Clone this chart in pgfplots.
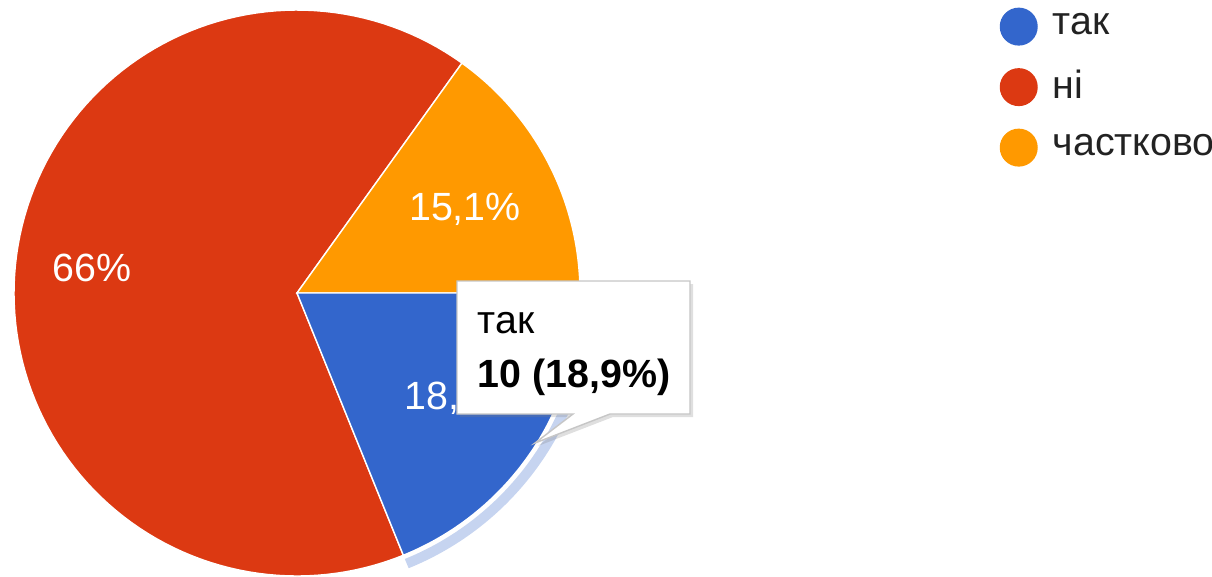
\documentclass[border=0pt]{standalone}
\usepackage{pgfplots}
\pgfplotsset{compat=1.18}
\usepackage{pgfplotstable}
\usepackage{fontspec}
\setmainfont{Liberation Sans}
\definecolor{cblue}{HTML}{3366CC}
\definecolor{cred}{HTML}{DC3912}
\definecolor{corange}{HTML}{FF9900}
\definecolor{cring}{HTML}{C6D4F0}
\definecolor{ctext}{HTML}{222222}

\pgfplotstableread{
label count
tak 10
ni 35
chast 8
}\piedata
\newcommand\fs{\fontsize{11.2}{13.5}\selectfont}

\begin{document}
\begin{tikzpicture}
\pgfplotstablegetelem{0}{count}\of\piedata \let\nA\pgfplotsretval
\pgfplotstablegetelem{1}{count}\of\piedata \let\nB\pgfplotsretval
\pgfplotstablegetelem{2}{count}\of\piedata \let\nC\pgfplotsretval
\pgfmathsetmacro\tot{\nA+\nB+\nC}
\pgfmathsetmacro\aA{-360*\nA/\tot}
\pgfmathsetmacro\aB{\aA-360*\nB/\tot}
\pgfmathsetmacro\aC{\aB-360*\nC/\tot}
\begin{axis}[
  scale only axis, width=12.12cm, height=5.76cm,
  xmin=0, xmax=1212, ymin=0, ymax=576, y dir=reverse,
  hide axis, clip=true,
  legend style={at={(0.8243,0.988)}, anchor=north west, draw=none, fill=none,
    inner sep=0pt, row sep=0.225cm, column sep=0.15cm,
    nodes={inner sep=0pt, text=ctext, font=\fs}},
  legend cell align=left,
]
% slices
\addplot[forget plot, fill=cred, draw=white, line width=0.4pt, domain=\aB:\aA, samples=120]
  ({297+283*cos(x)},{293-283*sin(x)}) -- (axis cs:297,293) -- cycle;
\addplot[forget plot, fill=corange, draw=white, line width=0.4pt, domain=\aC:\aB, samples=60]
  ({297+283*cos(x)},{293-283*sin(x)}) -- (axis cs:297,293) -- cycle;
\addplot[forget plot, fill=cblue, draw=white, line width=0.4pt, domain=\aA:0, samples=60]
  ({297+283*cos(x)},{293-283*sin(x)}) -- (axis cs:297,293) -- cycle;
% hover ring
\addplot[forget plot, draw=cring, line width=0.1cm, domain=\aA:0, samples=60]
  ({297+292*cos(x)},{293-292*sin(x)});
% legend
\addlegendimage{fill=cblue, draw=none, legend image code/.code={\path[fill=cblue, draw=none] (0.19cm,0cm) circle[radius=0.19cm];}}
\addlegendentry{так}
\addlegendimage{fill=cred, draw=none, legend image code/.code={\path[fill=cred, draw=none] (0.19cm,0cm) circle[radius=0.19cm];}}
\addlegendentry{ні}
\addlegendimage{fill=corange, draw=none, legend image code/.code={\path[fill=corange, draw=none] (0.19cm,0cm) circle[radius=0.19cm];}}
\addlegendentry{частково}
% slice labels
\node[text=white, font=\fs] at (axis cs:92,268) {66\%};
\node[text=white, font=\fs] at (axis cs:465,209) {15,1\%};
\node[text=white, font=\fs, anchor=west, inner sep=0pt] at (axis cs:404,398) {18,9\%};
% tooltip
\fill[gray, opacity=0.25] (axis cs:460,284) -- (axis cs:693,284) -- (axis cs:693,417) -- (axis cs:613,417) -- (axis cs:538,446) -- (axis cs:576,417) -- (axis cs:460,417) -- cycle;
\filldraw[fill=white, draw=gray!45, line width=0.4pt] (axis cs:457,281) -- (axis cs:690,281) -- (axis cs:690,414) -- (axis cs:610,414) -- (axis cs:535,443) -- (axis cs:573,414) -- (axis cs:457,414) -- cycle;
\node[anchor=base west, inner sep=0pt, font=\fs] at (axis cs:477,333) {так};
\node[anchor=base west, inner sep=0pt, font=\fs\bfseries] at (axis cs:477,387) {10 (18,9\%)};
\end{axis}
\pgfresetboundingbox
\path (current axis.south west) rectangle (current axis.north east);
\end{tikzpicture}
\end{document}
